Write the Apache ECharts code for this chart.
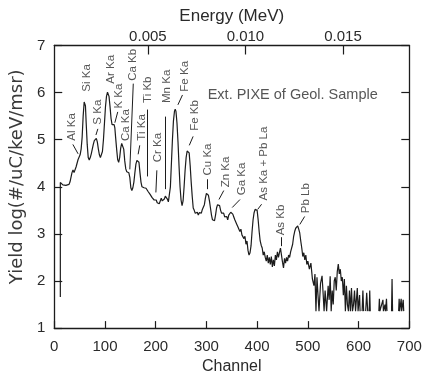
<!DOCTYPE html>
<html><head><meta charset="utf-8">
<script src="https://cdn.jsdelivr.net/npm/echarts@6/dist/echarts.min.js"></script>
<style>html,body{margin:0;padding:0;background:#fff}#c{width:430px;height:380px}</style>
</head><body><div id="c"></div>
<script>
// ---- data ----
const channels = [
  12,12,14,17,20,23,26,29,31,33,
  35,37,39,41,43,45,47,49,51,53,
  55,57,59,60,61.5,63,65,67,69,71,
  73,75,77,79,81,83,85,87,89,91,
  93,95,97,99,101,103,105,106.5,108,110,
  112,114,116,118,119.5,121,123,125,127,129,
  131,133,135,137,139,141,143,145,147,149,
  151,153,155,157,159,161,163,165,167,169,
  171,173,175,177,179,181,183,185,187,189,
  191,193,195,197,199,201,203,205,207,209,
  211,213,215,217,219,221,223,225,227,229,
  231,233,235,237,238.5,240,242,244,246,248,
  250,252,254,256,258,260,262,264,266,268,
  270,272,274,276,278,280,282,284,286,288,
  290,292,294,296,298,300,302,304,306,308,
  310,312,314,316,318,320,322,324,326,328,
  330,332,334,336,338,340,342,344,346,348,
  350,352,354,356,358,360,362,364,366,368,
  370,372,374,376,378,380,382,384,386,388,
  390,392,394,396,398,400,402,404,406,408,
  410,412,414,416,418,420,422,424,426,428,
  430,432,434,436,438,440,442,444,446,448,
  450,452,454,456,458,460,462,464,466,468,
  470,472,474,476,478,480,482,484,486,488,
  490,492,494,496,498,500,503,506,509,512,
  514,516,518,520,522,525,528,530,532,534,
  537,540,542,544,546,548,550,552,554,556,
  558,560,562,564,566,568,570,572,574,576,
  578,580,582,584,586,588,590,592,594,597.5,
  599,602,603,605,607,608.5,610,612,614,616,
  618,620,621,622,623,630,640,641,642,645,
  648,649,652,653,655,656,660,665,666,667,
  672,679,680,681,684,685,688,689
];
const yields = [
  1.66,4.09,4.10,4.04,4.05,4.03,4.06,4.05,4.10,4.20,
  4.30,4.36,4.30,4.34,4.42,4.50,4.58,4.62,4.68,4.80,
  5.05,5.50,5.80,5.82,5.72,5.35,4.90,4.62,4.57,4.62,
  4.70,4.80,4.90,4.98,5.02,5.03,4.95,4.80,4.68,4.62,
  4.63,4.75,5.00,5.35,5.70,5.92,6.01,6.02,5.92,5.70,
  5.45,5.32,5.30,5.32,5.25,5.05,4.80,4.58,4.52,4.62,
  4.82,4.92,4.92,4.80,4.55,4.38,4.32,4.28,4.30,4.20,
  3.98,3.92,3.98,4.10,4.30,4.48,4.56,4.58,4.52,4.30,
  4.10,4.00,3.96,3.98,4.00,3.97,3.96,3.90,3.88,3.84,
  3.80,3.77,3.79,3.72,3.68,3.72,3.66,3.70,3.64,3.70,
  3.76,3.70,3.66,3.74,3.80,3.83,3.74,3.68,3.70,4.00,
  4.50,5.00,5.40,5.60,5.65,5.60,5.35,4.95,4.45,4.00,
  3.72,3.60,3.70,4.00,4.35,4.62,4.76,4.80,4.72,4.45,
  4.10,3.80,3.55,3.50,3.44,3.42,3.46,3.40,3.45,3.48,
  3.44,3.52,3.55,3.62,3.76,3.86,3.88,3.82,3.70,3.55,
  3.40,3.30,3.26,3.28,3.40,3.55,3.62,3.66,3.60,3.50,
  3.44,3.40,3.44,3.36,3.32,3.37,3.30,3.40,3.44,3.46,
  3.50,3.42,3.36,3.30,3.28,3.20,3.15,3.18,3.05,3.10,
  2.98,3.02,2.90,2.95,2.78,2.85,2.65,2.55,2.60,2.75,
  3.05,3.30,3.45,3.52,3.55,3.50,3.30,3.05,2.85,2.76,
  2.70,2.55,2.62,2.50,2.42,2.55,2.38,2.50,2.35,2.52,
  2.30,2.45,2.32,2.55,2.45,2.62,2.50,2.60,2.70,2.55,
  2.40,2.28,2.48,2.38,2.50,2.42,2.55,2.50,2.62,2.58,
  2.78,2.95,3.05,3.12,3.15,3.17,3.10,3.02,2.85,2.70,
  2.52,2.60,2.45,2.55,2.35,2.42,2.25,2.38,2.04,1.90,
  2.15,1.36,2.08,1.70,1.36,1.95,2.11,1.75,1.36,1.80,
  1.36,1.90,1.60,2.10,1.36,1.80,1.50,2.00,2.08,1.80,
  2.20,2.36,2.15,2.25,2.00,2.08,1.70,2.04,1.36,1.90,
  1.50,1.36,1.80,1.36,1.85,1.36,1.50,1.80,1.36,1.85,
  1.36,1.70,1.36,null,1.36,1.80,1.36,null,1.36,1.75,
  1.36,null,1.36,1.80,1.36,null,1.36,1.62,1.36,1.36,
  1.60,1.36,1.50,1.36,1.62,1.36,null,1.36,2.04,1.36,
  null,1.36,1.62,1.36,1.62,1.36,1.60,1.36
];
const channelTicks = [0,100,200,300,400,500,600,700];
const energyTicks = [0.005,0.010,0.015];
const yieldTicks = [1,2,3,4,5,6,7];
const peakNames = ['Al Ka','Si Ka','S Ka','Ar Ka','K Ka','Ca Ka','Ca Kb','Ti Ka','Ti Kb','Cr Ka','Mn Ka','Fe Ka','Fe Kb','Cu Ka','Zn Ka','Ga Ka','As Ka + Pb La','As Kb','Pb Lb'];
const sampleTitle = 'Ext. PIXE of Geol. Sample';

// ---- annotation layout (data coordinates of label feet and leader lines) ----
const labelAnchors = [
  [34.8,4.98],[63.5,6.02],[85.7,5.32],[111.3,6.19],[127,5.66],[140.5,4.97],[155.8,6.25],
  [171.7,4.98],[184.5,5.78],[205,4.52],[222.8,5.78],[257.7,6.02],[276.9,5.19],[302.5,4.24],
  [337.5,3.99],[369.4,3.82],[414,3.71],[447,2.97],[496.7,3.44]
];
const leaders = [
  [[36.7,4.90],[47,4.70]],[[86,5.23],[82.2,5.10]],[[125.2,5.59],[119.5,5.36]],
  [[155.8,6.19],[149,4.37]],[[168.6,4.88],[165.4,4.69]],[[183.2,5.64],[183.2,4.22]],
  [[202.3,4.35],[200.4,3.88]],[[219.5,5.49],[219.5,3.95]],[[252.8,5.95],[243.8,5.74]],
  [[273.8,5.07],[266.2,4.88]],[[302.5,4.16],[302.5,3.95]],[[334.2,3.92],[324.7,3.73]],
  [[366.2,3.73],[350.9,3.56]],[[408.8,3.63],[401.1,3.52]],[[447,2.93],[447,2.74]],
  [[493.7,3.37],[484.1,3.20]]
];
const titleAnchor = [302.5,5.95];

const INK = '#1c1c1c';
const TXT = '#2a2a2a';
const FONT = 'Liberation Sans, Arial, sans-serif';
const spectrum = channels.map((c,i)=>[c, yields[i]===null ? '-' : yields[i]]);

const chart = echarts.init(document.getElementById('c'), null, {renderer:'canvas'});
const axisLine = {show:true, lineStyle:{color:INK, width:1.3}};
chart.setOption({
  animation:false,
  backgroundColor:'#fff',
  grid:{left:43.5, right:20.7, top:45.5, bottom:50.7},
  xAxis:[
    {type:'value', position:'bottom', min:channelTicks[0], max:channelTicks[channelTicks.length-1], interval:100,
     axisLine, splitLine:{show:false},
     axisTick:{inside:true, length:7, lineStyle:{color:INK,width:1.2}},
     axisLabel:{color:TXT, fontSize:15, fontFamily:FONT, margin:11},
     name:'Channel', nameLocation:'middle', nameGap:28,
     nameTextStyle:{color:TXT, fontSize:16, fontFamily:FONT}},
    {type:'value', position:'top', min:0.0002, max:0.0184,
     axisLine, splitLine:{show:false},
     axisTick:{inside:true, length:9, customValues:energyTicks, lineStyle:{color:INK,width:1.2}},
     axisLabel:{color:TXT, fontSize:15, fontFamily:FONT, margin:1, customValues:energyTicks,
       formatter:v=>Number(v).toFixed(3)},
     name:'Energy (MeV)', nameLocation:'middle', nameGap:11,
     nameTextStyle:{color:TXT, fontSize:17, fontFamily:FONT}}
  ],
  yAxis:[
    {type:'value', position:'left', min:yieldTicks[0], max:yieldTicks[yieldTicks.length-1], interval:1,
     axisLine, splitLine:{show:false},
     axisTick:{inside:true, length:8, lineStyle:{color:INK,width:1.2}},
     axisLabel:{color:TXT, fontSize:15, fontFamily:FONT, margin:9},
     name:'Yield log(#/uC/keV/msr)', nameLocation:'middle', nameRotate:90, nameGap:24,
     nameTextStyle:{color:'#3a3a3a', fontSize:18, fontFamily:'DejaVu Sans, sans-serif', padding:[0,0,0,20]}},
    {type:'value', position:'right', min:yieldTicks[0], max:yieldTicks[yieldTicks.length-1], interval:1,
     axisLine, splitLine:{show:false},
     axisTick:{inside:true, length:8, lineStyle:{color:INK,width:1.2}},
     axisLabel:{show:false}}
  ],
  series:[
    {type:'line', xAxisIndex:0, yAxisIndex:0, data:spectrum, showSymbol:false, symbol:'none',
     connectNulls:false, smooth:false, lineStyle:{color:INK, width:1.2}, silent:true},
    {type:'scatter', xAxisIndex:0, yAxisIndex:0, symbolSize:1, itemStyle:{color:'transparent'}, silent:true,
     data: peakNames.map((n,i)=>({name:n, value:labelAnchors[i]})),
     label:{show:true, formatter:'{b}', rotate:90, position:'inside', align:'left', verticalAlign:'middle',
       color:TXT, fontSize:11.5, fontFamily:FONT},
     markLine:{silent:true, symbol:['none','none'], label:{show:false},
       lineStyle:{color:INK, width:1, type:'solid'},
       data: leaders.map(l=>[{coord:l[0]},{coord:l[1]}])}},
    {type:'scatter', xAxisIndex:0, yAxisIndex:0, symbolSize:1, itemStyle:{color:'transparent'}, silent:true,
     data:[{name:sampleTitle, value:titleAnchor}],
     label:{show:true, formatter:'{b}', position:'inside', align:'left', verticalAlign:'middle',
       color:TXT, fontSize:14.5, fontFamily:FONT}}
  ]
});
</script></body></html>
